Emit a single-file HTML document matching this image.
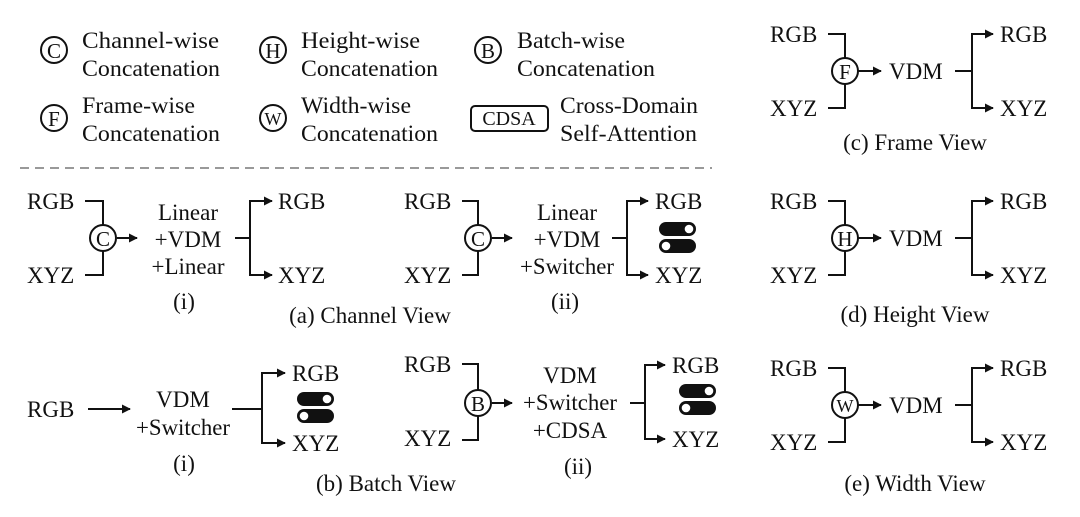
<!DOCTYPE html>
<html><head><meta charset="utf-8"><style>
html,body{margin:0;padding:0;background:#fff;}
svg{display:block;}
text{font-family:"Liberation Serif","DejaVu Serif",serif;font-size:23px;fill:#111;}
.c{text-anchor:middle;}
.k{text-anchor:middle;dominant-baseline:central;font-size:21px;}
.l{stroke:#111;stroke-width:2;fill:none;}
</style></head><body>
<svg width="1080" height="517" viewBox="0 0 1080 517">
<defs>
<marker id="a" viewBox="0 0 10 10" refX="9" refY="5" markerWidth="4.5" markerHeight="4.5" orient="auto"><path d="M0,0L10,5L0,10z" fill="#111"/></marker>
<g id="sw">
<rect x="0" y="0" width="37" height="14" rx="7" fill="#111"/>
<circle cx="30" cy="7" r="4.3" fill="#fff"/>
<rect x="0" y="17" width="37" height="14" rx="7" fill="#111"/>
<circle cx="7" cy="24" r="4.3" fill="#fff"/>
</g>
</defs>
<!-- Legend -->
<g>
<circle class="l" cx="54" cy="50" r="13" stroke-width="1.6"/><text class="k" x="54" y="51">C</text>
<text x="82" y="48" textLength="137" lengthAdjust="spacingAndGlyphs">Channel-wise</text>
<text x="82" y="76" textLength="138" lengthAdjust="spacingAndGlyphs">Concatenation</text>
<circle class="l" cx="273" cy="50" r="13" stroke-width="1.6"/><text class="k" x="273" y="51">H</text>
<text x="301" y="48" textLength="119" lengthAdjust="spacingAndGlyphs">Height-wise</text>
<text x="301" y="76" textLength="137" lengthAdjust="spacingAndGlyphs">Concatenation</text>
<circle class="l" cx="488" cy="50" r="13" stroke-width="1.6"/><text class="k" x="488" y="51">B</text>
<text x="517" y="48" textLength="108" lengthAdjust="spacingAndGlyphs">Batch-wise</text>
<text x="517" y="76" textLength="138" lengthAdjust="spacingAndGlyphs">Concatenation</text>
<circle class="l" cx="54" cy="118" r="13" stroke-width="1.6"/><text class="k" x="54" y="119">F</text>
<text x="82" y="113" textLength="113" lengthAdjust="spacingAndGlyphs">Frame-wise</text>
<text x="82" y="141" textLength="138" lengthAdjust="spacingAndGlyphs">Concatenation</text>
<circle class="l" cx="273" cy="118" r="13" stroke-width="1.6"/><text class="k" x="273" y="119" style="font-size:18px">W</text>
<text x="301" y="113" textLength="110" lengthAdjust="spacingAndGlyphs">Width-wise</text>
<text x="301" y="141" textLength="137" lengthAdjust="spacingAndGlyphs">Concatenation</text>
<rect class="l" x="471" y="106" width="77" height="25" rx="4" stroke-width="1.6"/><text class="k" x="509" y="119" style="font-size:20px">CDSA</text>
<text x="560" y="113" textLength="138" lengthAdjust="spacingAndGlyphs">Cross-Domain</text>
<text x="560" y="141" textLength="137" lengthAdjust="spacingAndGlyphs">Self-Attention</text>
</g>
<line x1="20" y1="168" x2="712" y2="168" stroke="#999" stroke-width="2" stroke-dasharray="9,6"/>

<!-- Channel (i) -->
<text x="27" y="209">RGB</text><text x="27" y="283">XYZ</text>
<path class="l" d="M85,201H103V225M103,251V275H85"/>
<circle class="l" cx="103" cy="238" r="13"/><text class="k" x="103" y="239">C</text>
<line class="l" x1="117" y1="238" x2="137" y2="238" marker-end="url(#a)"/>
<text class="c" x="188" y="220">Linear</text><text class="c" x="188" y="247">+VDM</text><text class="c" x="188" y="274">+Linear</text>
<path class="l" d="M235,238H250M250,201V275"/>
<line class="l" x1="249" y1="201" x2="272" y2="201" marker-end="url(#a)"/>
<line class="l" x1="249" y1="275" x2="272" y2="275" marker-end="url(#a)"/>
<text x="278" y="209">RGB</text><text x="278" y="283">XYZ</text>
<text class="c" x="184" y="309">(i)</text>
<text class="c" x="370" y="323">(a) Channel View</text>

<!-- Channel (ii) -->
<text x="404" y="209">RGB</text><text x="404" y="283">XYZ</text>
<path class="l" d="M462,201H478V225M478,251V275H462"/>
<circle class="l" cx="478" cy="238" r="13"/><text class="k" x="478" y="239">C</text>
<line class="l" x1="492" y1="238" x2="512" y2="238" marker-end="url(#a)"/>
<text class="c" x="567" y="220">Linear</text><text class="c" x="567" y="247">+VDM</text><text class="c" x="567" y="274" textLength="94" lengthAdjust="spacingAndGlyphs">+Switcher</text>
<path class="l" d="M612,238H627M627,201V275"/>
<line class="l" x1="626" y1="201" x2="648" y2="201" marker-end="url(#a)"/>
<line class="l" x1="626" y1="275" x2="648" y2="275" marker-end="url(#a)"/>
<text x="655" y="209">RGB</text><text x="655" y="283">XYZ</text>
<use href="#sw" x="659" y="222"/>
<text class="c" x="565" y="309">(ii)</text>

<!-- Batch (i) -->
<text x="27" y="417">RGB</text>
<line class="l" x1="88" y1="409" x2="130" y2="409" marker-end="url(#a)"/>
<text class="c" x="183" y="407">VDM</text><text class="c" x="183" y="435" textLength="94" lengthAdjust="spacingAndGlyphs">+Switcher</text>
<path class="l" d="M232,409H262M262,373V443"/>
<line class="l" x1="261" y1="373" x2="285" y2="373" marker-end="url(#a)"/>
<line class="l" x1="261" y1="443" x2="285" y2="443" marker-end="url(#a)"/>
<text x="292" y="381">RGB</text><text x="292" y="451">XYZ</text>
<use href="#sw" x="297" y="392"/>
<text class="c" x="184" y="471">(i)</text>
<text class="c" x="386" y="491">(b) Batch View</text>

<!-- Batch (ii) -->
<text x="404" y="372">RGB</text><text x="404" y="446">XYZ</text>
<path class="l" d="M462,364H478V390M478,416V440H462"/>
<circle class="l" cx="478" cy="403" r="13"/><text class="k" x="478" y="404">B</text>
<line class="l" x1="492" y1="403" x2="512" y2="403" marker-end="url(#a)"/>
<text class="c" x="570" y="383">VDM</text><text class="c" x="570" y="410" textLength="94" lengthAdjust="spacingAndGlyphs">+Switcher</text><text class="c" x="570" y="438">+CDSA</text>
<path class="l" d="M630,403H645M645,365V439"/>
<line class="l" x1="644" y1="365" x2="665" y2="365" marker-end="url(#a)"/>
<line class="l" x1="644" y1="439" x2="665" y2="439" marker-end="url(#a)"/>
<text x="672" y="373">RGB</text><text x="672" y="447">XYZ</text>
<use href="#sw" x="679" y="384"/>
<text class="c" x="578" y="474">(ii)</text>

<!-- Right column -->
<g>
<text x="770" y="42">RGB</text><text x="770" y="116">XYZ</text>
<path class="l" d="M828,34H845V58M845,84V108H828"/>
<circle class="l" cx="845" cy="71" r="13"/><text class="k" x="845" y="72">F</text>
<line class="l" x1="858" y1="71" x2="881" y2="71" marker-end="url(#a)"/>
<text x="889" y="79">VDM</text>
<path class="l" d="M955,71H972M972,34V108"/>
<line class="l" x1="971" y1="34" x2="993" y2="34" marker-end="url(#a)"/>
<line class="l" x1="971" y1="108" x2="993" y2="108" marker-end="url(#a)"/>
<text x="1000" y="42">RGB</text><text x="1000" y="116">XYZ</text>
<text class="c" x="915" y="150">(c) Frame View</text>
</g>
<g transform="translate(0,167)">
<text x="770" y="42">RGB</text><text x="770" y="116">XYZ</text>
<path class="l" d="M828,34H845V58M845,84V108H828"/>
<circle class="l" cx="845" cy="71" r="13"/><text class="k" x="845" y="72">H</text>
<line class="l" x1="858" y1="71" x2="881" y2="71" marker-end="url(#a)"/>
<text x="889" y="79">VDM</text>
<path class="l" d="M955,71H972M972,34V108"/>
<line class="l" x1="971" y1="34" x2="993" y2="34" marker-end="url(#a)"/>
<line class="l" x1="971" y1="108" x2="993" y2="108" marker-end="url(#a)"/>
<text x="1000" y="42">RGB</text><text x="1000" y="116">XYZ</text>
<text class="c" x="915" y="155">(d) Height View</text>
</g>
<g transform="translate(0,334)">
<text x="770" y="42">RGB</text><text x="770" y="116">XYZ</text>
<path class="l" d="M828,34H845V58M845,84V108H828"/>
<circle class="l" cx="845" cy="71" r="13"/><text class="k" x="845" y="72" style="font-size:18px">W</text>
<line class="l" x1="858" y1="71" x2="881" y2="71" marker-end="url(#a)"/>
<text x="889" y="79">VDM</text>
<path class="l" d="M955,71H972M972,34V108"/>
<line class="l" x1="971" y1="34" x2="993" y2="34" marker-end="url(#a)"/>
<line class="l" x1="971" y1="108" x2="993" y2="108" marker-end="url(#a)"/>
<text x="1000" y="42">RGB</text><text x="1000" y="116">XYZ</text>
<text class="c" x="915" y="157">(e) Width View</text>
</g>
</svg>
</body></html>
